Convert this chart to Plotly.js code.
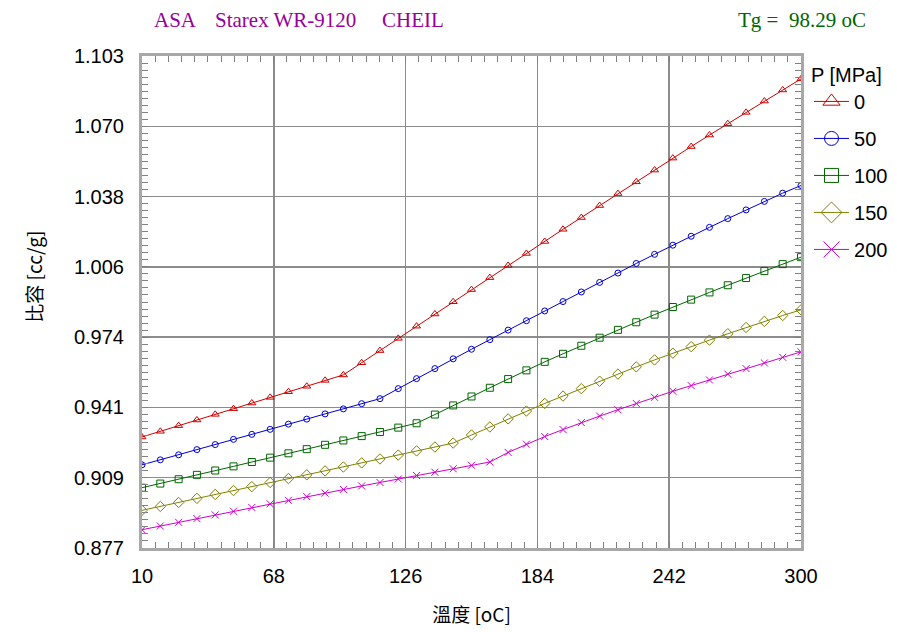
<!DOCTYPE html>
<html>
<head>
<meta charset="utf-8">
<script src="https://cdn.plot.ly/plotly-3.0.1.min.js"></script>
<style>
  html, body { margin: 0; padding: 0; background: #ffffff; }
  #chart { width: 897px; height: 632px; }
</style>
</head>
<body>
<div id="chart"></div>
<script>
// Temperatures [oC] at which the specific volume was evaluated
const temps = [10, 18.06, 26.11, 34.17, 42.22, 50.28, 58.33, 66.39, 74.44, 82.5,
  90.56, 98.61, 106.67, 114.72, 122.78, 130.83, 138.89, 146.94, 155, 163.06,
  171.11, 179.17, 187.22, 195.28, 203.33, 211.39, 219.44, 227.5, 235.56, 243.61,
  251.67, 259.72, 267.78, 275.83, 283.89, 291.94, 300];

// Specific volume [cc/g] per pressure level
const v0 = [0.9280, 0.9306, 0.9332, 0.9358, 0.9384, 0.9410, 0.9436, 0.9462, 0.9488, 0.9513,
  0.9540, 0.9565, 0.9621, 0.9677, 0.9733, 0.9789, 0.9845, 0.9901, 0.9957, 1.0012,
  1.0068, 1.0123, 1.0178, 1.0234, 1.0288, 1.0343, 1.0398, 1.0452, 1.0506, 1.0561,
  1.0614, 1.0667, 1.0719, 1.0771, 1.0823, 1.0874, 1.0925];
const v50 = [0.9152, 0.9175, 0.9198, 0.9222, 0.9245, 0.9269, 0.9292, 0.9315, 0.9339, 0.9362,
  0.9386, 0.9409, 0.9433, 0.9456, 0.9502, 0.9548, 0.9594, 0.9639, 0.9683, 0.9727,
  0.9771, 0.9814, 0.9859, 0.9902, 0.9946, 0.9990, 1.0033, 1.0077, 1.0119, 1.0161,
  1.0202, 1.0243, 1.0283, 1.0323, 1.0362, 1.0400, 1.0435];
const v100 = [0.9047, 0.9066, 0.9086, 0.9106, 0.9126, 0.9145, 0.9165, 0.9185, 0.9205, 0.9224,
  0.9244, 0.9264, 0.9284, 0.9303, 0.9323, 0.9343, 0.9383, 0.9425, 0.9466, 0.9506,
  0.9546, 0.9586, 0.9625, 0.9662, 0.9699, 0.9736, 0.9772, 0.9807, 0.9842, 0.9877,
  0.9911, 0.9944, 0.9977, 1.0010, 1.0042, 1.0074, 1.0106];
const v150 = [0.8943, 0.8961, 0.8979, 0.8998, 0.9016, 0.9034, 0.9052, 0.9071, 0.9089, 0.9106,
  0.9124, 0.9142, 0.9161, 0.9179, 0.9197, 0.9216, 0.9234, 0.9252, 0.9289, 0.9326,
  0.9363, 0.9399, 0.9434, 0.9468, 0.9502, 0.9536, 0.9569, 0.9602, 0.9634, 0.9665,
  0.9695, 0.9725, 0.9754, 0.9783, 0.9811, 0.9838, 0.9864];
const v200 = [0.8854, 0.8871, 0.8888, 0.8905, 0.8922, 0.8939, 0.8956, 0.8973, 0.8989, 0.9006,
  0.9022, 0.9039, 0.9055, 0.9071, 0.9087, 0.9103, 0.9118, 0.9134, 0.9150, 0.9165,
  0.9209, 0.9247, 0.9282, 0.9314, 0.9346, 0.9376, 0.9405, 0.9434, 0.9462, 0.9490,
  0.9516, 0.9542, 0.9569, 0.9594, 0.9620, 0.9646, 0.9671];

const pressures = ['0', '50', '100', '150', '200'];
const xTickLabels = ['10', '68', '126', '184', '242', '300'];
const yTickLabels = ['0.877', '0.909', '0.941', '0.974', '1.006', '1.038', '1.070', '1.103'];

const series = [v0, v50, v100, v150, v200];
const colors = ['#cc0000', '#0000cc', '#006600', '#808000', '#cc00cc'];
const symbols = ['triangle-up-open', 'circle-open', 'square-open', 'diamond-open', 'x-thin-open'];
const sizes = [7, 6, 7, 8, 7];
const legendSizes = [15, 14, 14, 16, 16];

const xMin = 10, xMax = 300, yMin = 0.877, yMax = 1.103;
const yStep = (yMax - yMin) / (yTickLabels.length - 1);
const yTickVals = yTickLabels.map((_, i) => yMin + i * yStep);
const xStep = (xMax - xMin) / (xTickLabels.length - 1);
const xTickVals = xTickLabels.map((_, i) => xMin + i * xStep);

// Curves: one per pressure level
const curves = series.map((vals, k) => ({
  type: 'scatter',
  mode: 'lines+markers',
  x: temps,
  y: vals,
  name: pressures[k],
  showlegend: false,
  line: { color: colors[k], width: 1 },
  marker: { symbol: symbols[k], size: sizes[k], color: colors[k], line: { color: colors[k], width: 1 } },
  hoverinfo: 'x+y+name'
}));

// Legend entries with larger symbols than the plotted markers
const legendItems = pressures.map((p, k) => ({
  type: 'scatter',
  mode: 'lines+markers',
  x: [null],
  y: [null],
  name: p,
  legendgroup: 'p' + p,
  showlegend: true,
  line: { color: colors[k], width: 1 },
  marker: { symbol: symbols[k], size: legendSizes[k], color: colors[k], line: { color: colors[k], width: 1 } },
  hoverinfo: 'skip'
}));

const tickFont = { family: 'Liberation Sans, Arial, sans-serif', size: 20, color: '#000000' };
const frameColor = '#a8a8a8';
const gridColor = '#8c8c8c';

const layout = {
  width: 897,
  height: 632,
  margin: { l: 141.5, r: 96, t: 56, b: 84 },
  paper_bgcolor: '#ffffff',
  plot_bgcolor: '#ffffff',
  showlegend: true,
  legend: {
    x: 0.9019, xanchor: 'left', xref: 'container',
    y: 0.9115, yanchor: 'top', yref: 'container',
    bgcolor: 'rgba(0,0,0,0)',
    borderwidth: 0,
    font: { family: 'Liberation Sans, Arial, sans-serif', size: 20, color: '#000000' },
    title: { text: 'P [MPa]', font: { family: 'Liberation Sans, Arial, sans-serif', size: 20, color: '#000000' } },
    itemsizing: 'trace',
    itemwidth: 35,
    traceorder: 'grouped',
    tracegroupgap: 8
  },
  xaxis: {
    range: [xMin, xMax],
    tickmode: 'array',
    tickvals: xTickVals,
    ticktext: xTickLabels,
    tickfont: tickFont,
    ticks: 'inside',
    ticklen: 6,
    tickcolor: '#808080',
    ticklabelstandoff: 8,
    showgrid: true,
    gridcolor: gridColor,
    gridwidth: 1.5,
    zeroline: false,
    showline: true,
    linecolor: frameColor,
    linewidth: 3,
    mirror: 'allticks',
    minor: { tickmode: 'linear', tick0: xMin, dtick: xStep / 10, ticks: 'inside', ticklen: 6, tickcolor: '#808080', tickwidth: 1, showgrid: false },
    title: { text: '溫度 [oC]', font: { family: 'Noto Sans CJK TC, sans-serif', size: 19, color: '#000000' }, standoff: 23 }
  },
  yaxis: {
    range: [yMin, yMax],
    tickmode: 'array',
    tickvals: yTickVals,
    ticktext: yTickLabels,
    tickfont: tickFont,
    ticks: 'inside',
    ticklen: 6,
    tickcolor: '#808080',
    ticklabelstandoff: 11,
    showgrid: true,
    gridcolor: gridColor,
    gridwidth: 1.5,
    zeroline: false,
    showline: true,
    linecolor: frameColor,
    linewidth: 3,
    mirror: 'allticks',
    minor: { tickmode: 'linear', tick0: yMin, dtick: yStep / 10, ticks: 'inside', ticklen: 6, tickcolor: '#808080', tickwidth: 1, showgrid: false }
  },
  annotations: [
    { xref: 'paper', yref: 'paper', x: -0.165, y: 0.552, text: '比容 [cc/g]', textangle: -90,
      showarrow: false, xanchor: 'center', yanchor: 'middle',
      font: { family: 'Noto Sans CJK TC, sans-serif', size: 19, color: '#000000' } },
    { xref: 'paper', yref: 'paper', x: 0.0159, y: 1.073, text: 'ASA', showarrow: false,
      xanchor: 'left', yanchor: 'middle', font: { family: 'Liberation Serif, serif', size: 21, color: '#990099' } },
    { xref: 'paper', yref: 'paper', x: 0.1084, y: 1.073, text: 'Starex WR-9120', showarrow: false,
      xanchor: 'left', yanchor: 'middle', font: { family: 'Liberation Serif, serif', size: 21, color: '#990099' } },
    { xref: 'paper', yref: 'paper', x: 0.3616, y: 1.073, text: 'CHEIL', showarrow: false,
      xanchor: 'left', yanchor: 'middle', font: { family: 'Liberation Serif, serif', size: 21, color: '#990099' } },
    { xref: 'paper', yref: 'paper', x: 0.9014, y: 1.073, text: 'Tg =\u00a0 98.29 oC', showarrow: false,
      xanchor: 'left', yanchor: 'middle', font: { family: 'Liberation Serif, serif', size: 21, color: '#006600' } }
  ]
};

Plotly.newPlot('chart', curves.concat(legendItems), layout, { displayModeBar: false, staticPlot: true });
</script>
</body>
</html>
